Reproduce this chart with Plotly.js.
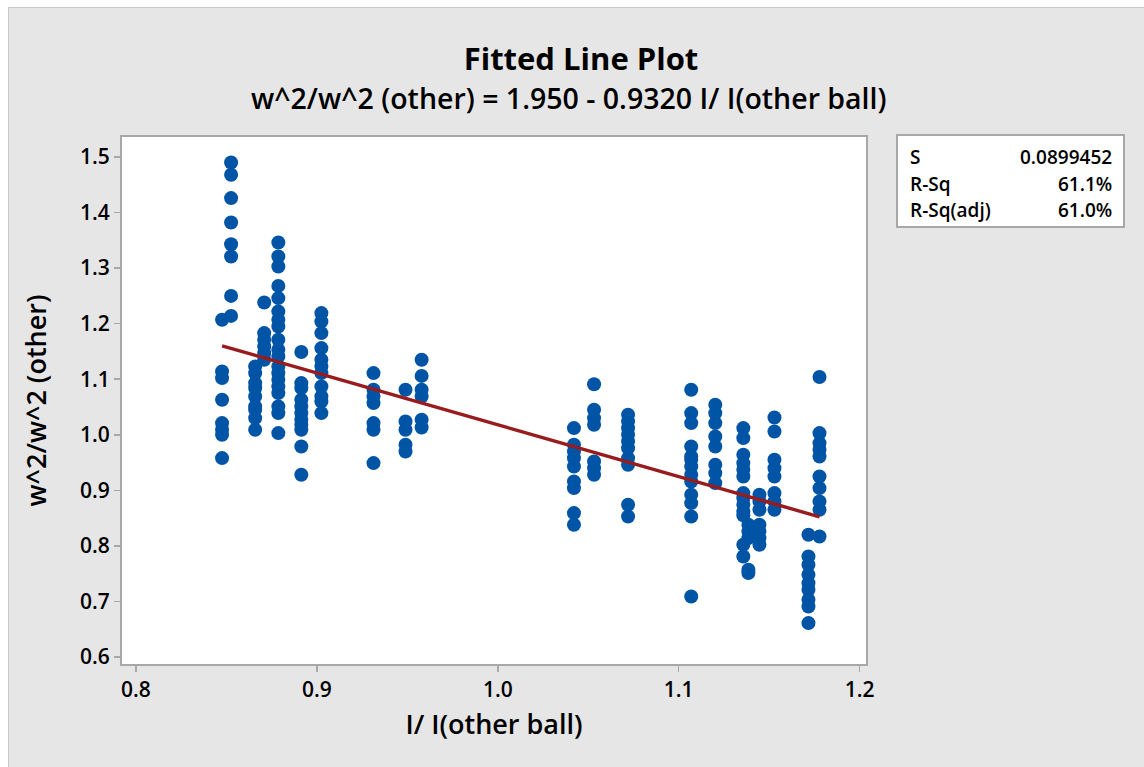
<!DOCTYPE html>
<html>
<head>
<meta charset="utf-8">
<script src="https://cdn.plot.ly/plotly-3.0.1.min.js"></script>
<style>
  html, body { margin: 0; padding: 0; background: #ffffff; }
  #wrap { position: absolute; left: 8px; top: 7px; width: 1136px; height: 760px;
          border-left: 1px solid #c8c8c8; border-top: 1px solid #c8c8c8; box-sizing: border-box; }
  #chart { width: 1135px; height: 759px; }
</style>
</head>
<body>
<div id="wrap"><div id="chart"></div></div>
<script>
// ---- data (x = I/ I(other ball), y = w^2/w^2 (other)) ----
const x1 = 0.8476; const y1 = [1.207, 1.114, 1.102, 1.063, 1.021, 1.009, 1.000, 0.958];
const x2 = 0.8526; const y2 = [1.490, 1.468, 1.426, 1.382, 1.343, 1.321, 1.250, 1.214];
const x3 = 0.8659; const y3 = [1.123, 1.111, 1.093, 1.084, 1.069, 1.051, 1.045, 1.030, 1.009];
const x4 = 0.8709; const y4 = [1.238, 1.183, 1.171, 1.159, 1.147, 1.135];
const x5 = 0.8787; const y5 = [1.346, 1.321, 1.303, 1.268, 1.246, 1.222, 1.207, 1.195, 1.171, 1.153, 1.141, 1.123, 1.111, 1.099, 1.087, 1.075, 1.051, 1.039, 1.003];
const x6 = 0.8914; const y6 = [1.149, 1.093, 1.084, 1.063, 1.051, 1.039, 1.027, 1.018, 1.009, 0.979, 0.928];
const x7 = 0.9025; const y7 = [1.219, 1.204, 1.183, 1.156, 1.135, 1.123, 1.111, 1.087, 1.069, 1.060, 1.039];
const x8 = 0.9313; const y8 = [1.111, 1.081, 1.069, 1.057, 1.021, 1.009, 0.949];
const x9 = 0.9490; const y9 = [1.081, 1.024, 1.009, 0.982, 0.970];
const x10 = 0.9579; const y10 = [1.135, 1.106, 1.081, 1.069, 1.027, 1.013];
const x11 = 1.0421; const y11 = [1.012, 0.982, 0.970, 0.958, 0.943, 0.916, 0.904, 0.859, 0.838];
const x12 = 1.0532; const y12 = [1.091, 1.045, 1.030, 1.018, 0.952, 0.940, 0.928];
const x13 = 1.0720; const y13 = [1.036, 1.024, 1.012, 1.000, 0.988, 0.976, 0.958, 0.946, 0.874, 0.853];
const x14 = 1.1069; const y14 = [1.081, 1.039, 1.021, 0.979, 0.961, 0.955, 0.943, 0.928, 0.916, 0.892, 0.877, 0.853, 0.709];
const x15 = 1.1202; const y15 = [1.054, 1.039, 1.021, 0.997, 0.979, 0.946, 0.931, 0.913];
const x16 = 1.1357; const y16 = [1.012, 0.994, 0.964, 0.949, 0.937, 0.925, 0.895, 0.886, 0.874, 0.862, 0.855, 0.802, 0.781];
const x17 = 1.1385; const y17 = [0.838, 0.826, 0.814, 0.757, 0.751];
const x18 = 1.1446; const y18 = [0.892, 0.880, 0.865, 0.838, 0.826, 0.814, 0.802];
const x19 = 1.1529; const y19 = [1.031, 1.006, 0.955, 0.940, 0.925, 0.895, 0.880, 0.865];
const x20 = 1.1717; const y20 = [0.820, 0.781, 0.766, 0.748, 0.733, 0.721, 0.703, 0.691, 0.661];
const x21 = 1.1778; const y21 = [1.104, 1.003, 0.985, 0.973, 0.961, 0.925, 0.904, 0.880, 0.865, 0.817];

const columnX = [x1,x2,x3,x4,x5,x6,x7,x8,x9,x10,x11,x12,x13,x14,x15,x16,x17,x18,x19,x20,x21];
const columnY = [y1,y2,y3,y4,y5,y6,y7,y8,y9,y10,y11,y12,y13,y14,y15,y16,y17,y18,y19,y20,y21];

// fitted regression line
const intercept = 1.950;
const slope = -0.9320;

const statLabels = ["S", "R-Sq", "R-Sq(adj)"];
const statValues = ["0.0899452", "61.1%", "61.0%"];

const titleText = "Fitted Line Plot";
const subtitleText = "w^2/w^2 (other) = 1.950 - 0.9320 I/ I(other ball)";
const xTitle = "I/ I(other ball)";
const yTitle = "w^2/w^2 (other)";
const xTicks = [0.8, 0.9, 1.0, 1.1, 1.2];
const xTickText = ["0.8", "0.9", "1.0", "1.1", "1.2"];
const yTicks = [0.6, 0.7, 0.8, 0.9, 1.0, 1.1, 1.2, 1.3, 1.4, 1.5];
const yTickText = ["0.6", "0.7", "0.8", "0.9", "1.0", "1.1", "1.2", "1.3", "1.4", "1.5"];

// ---- build traces ----
const ptsX = [], ptsY = [];
columnX.forEach((xv, i) => { columnY[i].forEach(yv => { ptsX.push(xv); ptsY.push(yv); }); });
const xmin = Math.min(...ptsX), xmax = Math.max(...ptsX);
const lineX = [xmin, xmax];
const lineY = lineX.map(v => intercept + slope * v);

const FONT = "Open Sans, Noto Sans, sans-serif";
const DIVX = 8, DIVY = 7;       // page offset of chart div
const PL = 122, PR = 866, PT = 137, PB = 664; // plot area in page px
const W = 1135, H = 759;
const px = p => (p - PL) / (PR - PL);
const py = p => (PB - p) / (PB - PT);

const traces = [
  { x: ptsX, y: ptsY, type: 'scatter', mode: 'markers',
    marker: { color: '#0054a6', size: 14, line: { width: 0 } }, hoverinfo: 'x+y' },
  { x: lineX, y: lineY, type: 'scatter', mode: 'lines',
    line: { color: '#981b1e', width: 3.4 }, hoverinfo: 'skip' }
];

const annotations = [
  { text: subtitleText, xref: 'paper', yref: 'paper', x: px(569), y: py(98),
    xanchor: 'center', yanchor: 'middle', showarrow: false,
    font: { family: FONT, size: 28.5, color: '#000', weight: 600 } }
];
const rowY = [157, 183.5, 210];
statLabels.forEach((t, i) => {
  annotations.push({ text: t, xref: 'paper', yref: 'paper', x: px(908), y: py(rowY[i]),
    xanchor: 'left', yanchor: 'middle', showarrow: false,
    font: { family: FONT, size: 19, color: '#000', weight: 600 } });
  annotations.push({ text: statValues[i], xref: 'paper', yref: 'paper', x: px(1114), y: py(rowY[i]),
    xanchor: 'right', yanchor: 'middle', showarrow: false,
    font: { family: FONT, size: 19, color: '#000', weight: 600 } });
});

const layout = {
  width: W, height: H,
  paper_bgcolor: '#e6e6e6', plot_bgcolor: '#ffffff',
  margin: { l: PL - DIVX - 1, r: W - (PR - DIVX - 1), t: PT - DIVY - 1, b: H - (PB - DIVY - 1), pad: 0 },
  showlegend: false,
  title: { text: titleText, x: (580 - DIVX) / W, xanchor: 'center', y: 1 - (58 - DIVY) / H, yanchor: 'middle',
           font: { family: FONT, size: 31, color: '#000', weight: 700 } },
  xaxis: {
    range: [0.7923, 1.2035], tickvals: xTicks, ticktext: xTickText,
    showgrid: false, zeroline: false, showline: true, mirror: true,
    linecolor: '#a8a8a8', linewidth: 2, ticks: 'outside', ticklen: 6, tickwidth: 1.5, tickcolor: '#a8a8a8',
    tickfont: { family: FONT, size: 21, color: '#000', weight: 600 },
    title: { text: xTitle, standoff: 13, font: { family: FONT, size: 27, color: '#000', weight: 600 } }
  },
  yaxis: {
    range: [0.5874, 1.536], tickvals: yTicks, ticktext: yTickText,
    showgrid: false, zeroline: false, showline: true, mirror: true,
    linecolor: '#a8a8a8', linewidth: 2, ticks: 'outside', ticklen: 6, tickwidth: 1.5, tickcolor: '#a8a8a8',
    tickfont: { family: FONT, size: 21, color: '#000', weight: 600 },
    title: { text: yTitle, standoff: 26, font: { family: FONT, size: 27, color: '#000', weight: 600 } }
  },
  shapes: [
    { type: 'rect', xref: 'paper', yref: 'paper', x0: px(897), x1: px(1124), y0: py(227), y1: py(135),
      fillcolor: '#ffffff', line: { color: '#a8a8a8', width: 2 }, layer: 'above' }
  ],
  annotations: annotations
};

Plotly.newPlot('chart', traces, layout, { displayModeBar: false, staticPlot: true });
</script>
</body>
</html>
